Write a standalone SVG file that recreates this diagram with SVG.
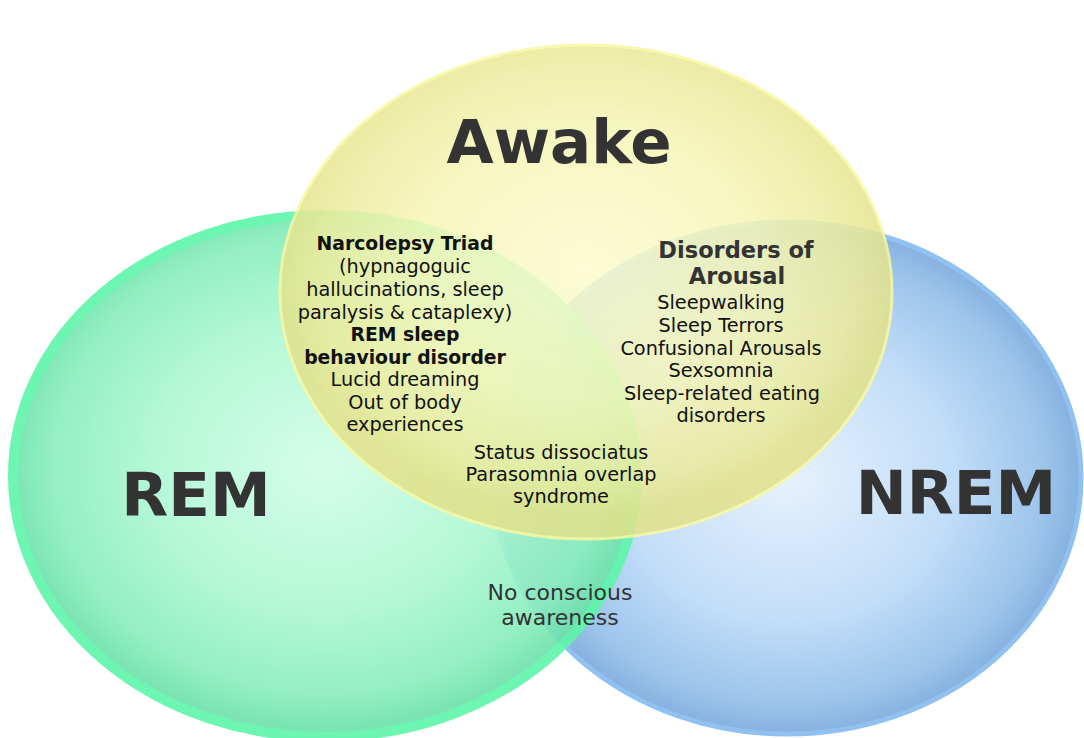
<svg xmlns="http://www.w3.org/2000/svg" width="1084" height="738" viewBox="0 0 1084 738">
  <defs>
    <radialGradient id="fillRem" cx="0.5" cy="0.48" r="0.5">
      <stop offset="0" stop-color="#d2fde8"/>
      <stop offset="0.55" stop-color="#adf8d3"/>
      <stop offset="0.88" stop-color="#88eebd"/>
      <stop offset="1" stop-color="#6ee2aa"/>
    </radialGradient>
    <radialGradient id="fillNrem" cx="0.5" cy="0.5" r="0.5">
      <stop offset="0" stop-color="#e6f1fd"/>
      <stop offset="0.55" stop-color="#c3def8"/>
      <stop offset="0.88" stop-color="#9cc4eb"/>
      <stop offset="1" stop-color="#86b1df"/>
    </radialGradient>
    <radialGradient id="fillAwake" cx="0.5" cy="0.45" r="0.5">
      <stop offset="0" stop-color="#fcfcd0"/>
      <stop offset="0.55" stop-color="#f6f6b8"/>
      <stop offset="0.88" stop-color="#ebeb9c"/>
      <stop offset="1" stop-color="#e2e28a"/>
    </radialGradient>
  </defs>
  <style>
    .set-rem { fill: url(#fillRem); stroke: #5ef6aa; stroke-width: 10; opacity: 0.9; }
    .set-nrem { fill: url(#fillNrem); stroke: #90c1f0; stroke-width: 5; }
    .set-awake { fill: url(#fillAwake); stroke: #f8f8a2; stroke-width: 3; opacity: 0.86; }
    text { font-family: "DejaVu Sans", "Liberation Sans", sans-serif; text-anchor: middle; }
    .title { font-size: 61px; font-weight: bold; fill: #333333; }
    .item { font-size: 19.3px; fill: #111111; }
    .item-bold { font-size: 18.8px; font-weight: bold; fill: #111111; }
    .heading { font-size: 22.5px; font-weight: bold; fill: #333333; }
    .note { font-size: 22px; fill: #333333; }
  </style>

  <!-- the three sets, drawn bottom to top -->
  <g id="nrem">
    <ellipse class="set-nrem" cx="787" cy="478" rx="294" ry="256"/>
    <text class="title" x="956" y="514">NREM</text>
  </g>
  <g id="rem">
    <ellipse class="set-rem" cx="325" cy="476" rx="312" ry="261"/>
  </g>
  <g id="awake">
    <ellipse class="set-awake" cx="586" cy="292" rx="306" ry="247"/>
    <text class="title" x="559" y="163">Awake</text>
  </g>
  <g id="rem-label">
    <text class="title" x="196" y="516">REM</text>
  </g>

  <!-- Awake ∩ REM -->
  <g id="awake-rem">
    <text class="item-bold" x="405" y="250">Narcolepsy Triad</text>
    <text class="item" x="405" y="273">(hypnagoguic</text>
    <text class="item" x="405" y="296">hallucinations, sleep</text>
    <text class="item" x="405" y="319">paralysis &amp; cataplexy)</text>
    <text class="item-bold" x="405" y="341">REM sleep</text>
    <text class="item-bold" x="405" y="364">behaviour disorder</text>
    <text class="item" x="405" y="386">Lucid dreaming</text>
    <text class="item" x="405" y="409">Out of body</text>
    <text class="item" x="405" y="431">experiences</text>
  </g>

  <!-- Awake ∩ NREM -->
  <g id="awake-nrem">
    <text class="heading" x="736" y="258">Disorders of</text>
    <text class="heading" x="737" y="284">Arousal</text>
    <text class="item" x="721" y="309">Sleepwalking</text>
    <text class="item" x="721" y="332">Sleep Terrors</text>
    <text class="item" x="721" y="355">Confusional Arousals</text>
    <text class="item" x="721" y="377">Sexsomnia</text>
    <text class="item" x="722" y="400">Sleep-related eating</text>
    <text class="item" x="721" y="422">disorders</text>
  </g>

  <!-- all three -->
  <g id="awake-rem-nrem">
    <text class="item" x="561" y="459">Status dissociatus</text>
    <text class="item" x="561" y="481">Parasomnia overlap</text>
    <text class="item" x="561" y="503">syndrome</text>
  </g>

  <!-- REM ∩ NREM -->
  <g id="rem-nrem">
    <text class="note" x="560" y="600">No conscious</text>
    <text class="note" x="560" y="625">awareness</text>
  </g>

  <g id="connectors"/>
</svg>
